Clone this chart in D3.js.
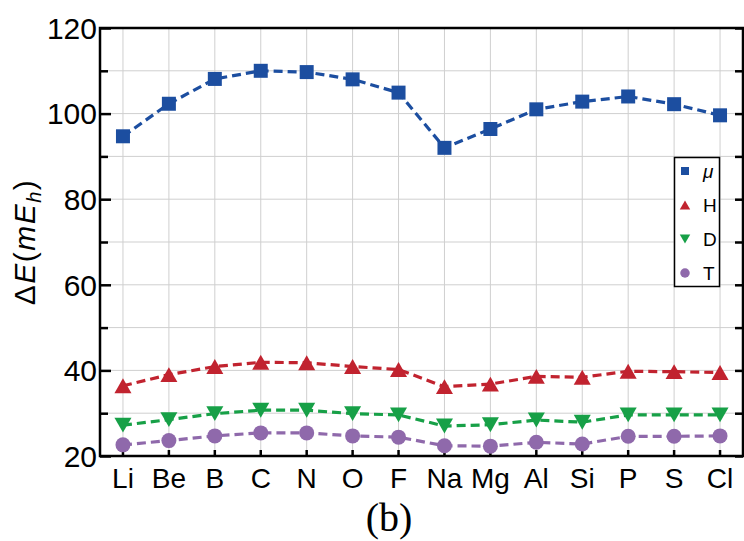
<!DOCTYPE html>
<html>
<head>
<meta charset="utf-8">
<script src="https://cdn.jsdelivr.net/npm/d3@7"></script>
<style>
  html, body { margin: 0; padding: 0; background: #fff; }
  svg { display: block; }
</style>
</head>
<body>
<svg id="chart" width="744" height="541"></svg>
<script>
// Energy differences per element, in milli-Hartree
const elements = ["Li", "Be", "B", "C", "N", "O", "F", "Na", "Mg", "Al", "Si", "P", "S", "Cl"];
const muValues = [94.7, 102.3, 108.1, 110.0, 109.7, 108.0, 104.9, 92.0, 96.4, 101.0, 102.8, 104.0, 102.2, 99.6];
const hValues  = [36.4, 39.0, 40.9, 41.9, 41.8, 40.9, 40.2, 36.2, 36.8, 38.6, 38.4, 39.8, 39.7, 39.5];
const dValues  = [27.2, 28.5, 29.9, 30.7, 30.7, 29.9, 29.6, 27.0, 27.3, 28.4, 27.9, 29.6, 29.6, 29.6];
const tValues  = [22.6, 23.6, 24.7, 25.4, 25.4, 24.7, 24.4, 22.4, 22.3, 23.2, 22.8, 24.6, 24.6, 24.7];
const yTicks = [20, 40, 60, 80, 100, 120];
const yMinorTicks = [30, 50, 70, 90, 110];
const seriesNames = ["μ", "H", "D", "T"];

const series = [
  { name: seriesNames[0], values: muValues, color: "#1c4ea0", symbol: "square" },
  { name: seriesNames[1], values: hValues,  color: "#c1232f", symbol: "up" },
  { name: seriesNames[2], values: dValues,  color: "#17a047", symbol: "down" },
  { name: seriesNames[3], values: tValues,  color: "#8f69ab", symbol: "circle" }
];

const svg = d3.select("#chart");
const plotLeft = 100, plotRight = 743, plotTop = 28, plotBottom = 456;

const x = d3.scaleBand().domain(elements).range([plotLeft, plotRight]).padding(0);
const cx = d => x(d) + x.bandwidth() / 2;
const y = d3.scaleLinear().domain([20, 120]).range([plotBottom, plotTop]);

// grid
const grid = svg.append("g").attr("stroke", "#cfcfcf").attr("stroke-width", 1);
grid.selectAll("line.h").data(yTicks.concat(yMinorTicks)).join("line")
  .attr("class", "h")
  .attr("x1", plotLeft).attr("x2", plotRight)
  .attr("y1", d => y(d)).attr("y2", d => y(d));
grid.selectAll("line.v").data(elements).join("line")
  .attr("class", "v")
  .attr("x1", cx).attr("x2", cx)
  .attr("y1", plotTop).attr("y2", plotBottom);

// axes with inward ticks
const font = "'Liberation Sans', Arial, Helvetica, sans-serif";
const leftAxis = svg.append("g").attr("transform", `translate(${plotLeft},0)`)
  .call(d3.axisRight(y).tickValues(yTicks).tickSize(11).tickFormat(""));
const leftMinor = svg.append("g").attr("transform", `translate(${plotLeft},0)`)
  .call(d3.axisRight(y).tickValues(yMinorTicks).tickSize(8).tickFormat(""));
const rightAxis = svg.append("g").attr("transform", `translate(${plotRight},0)`)
  .call(d3.axisLeft(y).tickValues(yTicks.concat(yMinorTicks)).tickSize(8).tickFormat(""));
const bottomAxis = svg.append("g").attr("transform", `translate(0,${plotBottom})`)
  .call(d3.axisTop(x).tickSize(6).tickFormat(""));
[leftAxis, leftMinor, rightAxis, bottomAxis].forEach(g => {
  g.select(".domain").remove();
  g.selectAll(".tick line").attr("stroke", "#000").attr("stroke-width", 2.5);
});

// y tick labels
svg.append("g").selectAll("text").data(yTicks).join("text")
  .attr("x", 97).attr("y", d => y(d))
  .attr("dy", "0.36em")
  .attr("text-anchor", "end")
  .attr("font-family", font).attr("font-size", 30)
  .text(d => d);

// x tick labels
svg.append("g").selectAll("text").data(elements).join("text")
  .attr("x", cx).attr("y", 488)
  .attr("text-anchor", "middle")
  .attr("font-family", font).attr("font-size", 28)
  .text(d => d);

// lines and markers
const line = d3.line().x((d, i) => cx(elements[i])).y(d => y(d));
const markerPath = {
  square: s => `M${-s/2},${-s/2}h${s}v${s}h${-s}Z`,
  up: s => `M0,${-s*0.48}L${s*0.55},${s*0.48}L${-s*0.55},${s*0.48}Z`,
  down: s => `M0,${s*0.48}L${s*0.55},${-s*0.48}L${-s*0.55},${-s*0.48}Z`,
  circle: s => `M${s/2},0A${s/2},${s/2} 0 1 1 ${-s/2},0A${s/2},${s/2} 0 1 1 ${s/2},0Z`
};
const markerSize = { square: 14, up: 15.5, down: 15.5, circle: 15 };

series.slice().reverse().forEach(s => {
  const g = svg.append("g");
  g.append("path").datum(s.values)
    .attr("d", line)
    .attr("fill", "none")
    .attr("stroke", s.color)
    .attr("stroke-width", 3.2)
    .attr("stroke-dasharray", "9,5");
  g.selectAll("path.m").data(s.values).join("path")
    .attr("class", "m")
    .attr("transform", (d, i) => `translate(${cx(elements[i])},${y(d)})`)
    .attr("d", markerPath[s.symbol](markerSize[s.symbol]))
    .attr("fill", s.color);
});

// frame
svg.append("rect")
  .attr("x", plotLeft).attr("y", plotTop)
  .attr("width", plotRight - plotLeft).attr("height", plotBottom - plotTop)
  .attr("fill", "none").attr("stroke", "#000").attr("stroke-width", 2.5);

// legend
const legend = svg.append("g");
legend.append("rect")
  .attr("x", 674.5).attr("y", 157.5).attr("width", 45).attr("height", 129)
  .attr("fill", "#fff").attr("stroke", "#000").attr("stroke-width", 1.5);
series.forEach((s, i) => {
  const ly = 171 + i * 34;
  legend.append("path")
    .attr("transform", `translate(685,${ly})`)
    .attr("d", markerPath[s.symbol](s.symbol === "square" ? 8 : 9.5))
    .attr("fill", s.color);
  legend.append("text")
    .attr("x", 703).attr("y", ly)
    .attr("dy", "0.36em")
    .attr("font-family", font).attr("font-size", 19)
    .attr("font-style", s.name === "μ" ? "italic" : "normal")
    .text(s.name);
});

// y-axis title
const yt = svg.append("text")
  .attr("transform", "translate(35,242) rotate(-90)")
  .attr("text-anchor", "middle")
  .attr("font-family", font).attr("font-size", 30)
  .attr("letter-spacing", 1.5);
yt.append("tspan").text("Δ");
yt.append("tspan").attr("font-style", "italic").text("E");
yt.append("tspan").text("(");
yt.append("tspan").attr("font-style", "italic").text("mE");
yt.append("tspan").attr("font-style", "italic").attr("font-size", 20).attr("dy", 6).text("h");
yt.append("tspan").attr("dy", -6).text(")");

// panel label
svg.append("text")
  .attr("x", 389).attr("y", 531)
  .attr("text-anchor", "middle")
  .attr("font-family", "'Liberation Serif', 'Times New Roman', serif")
  .attr("font-size", 40)
  .text("(b)");
</script>
</body>
</html>
